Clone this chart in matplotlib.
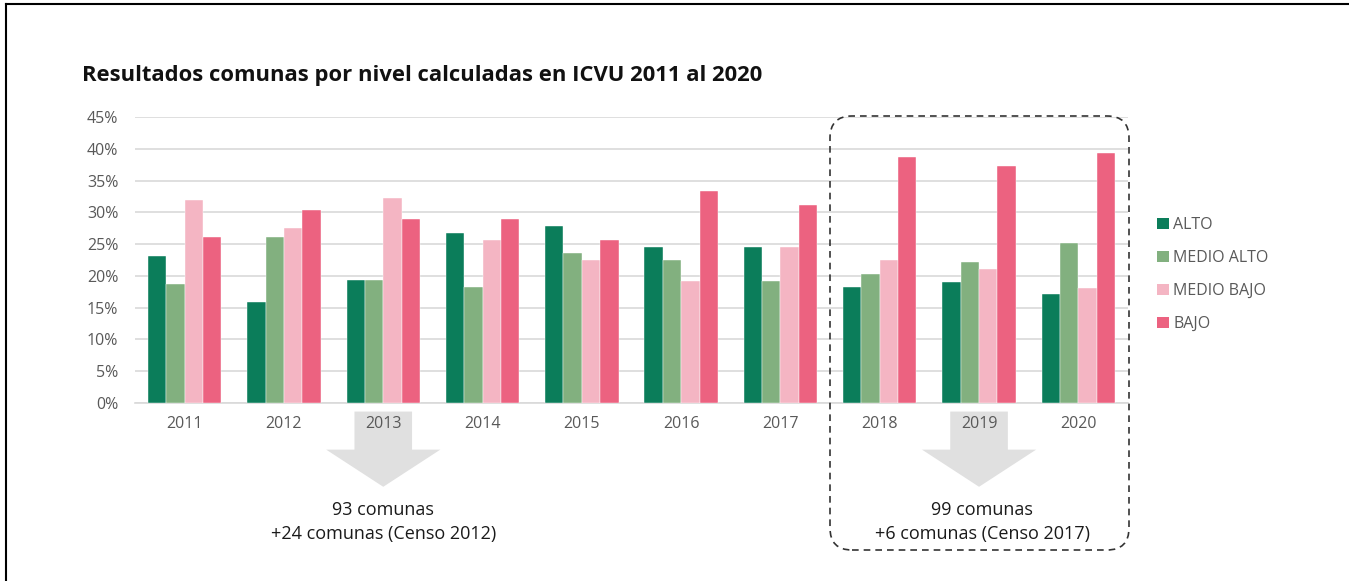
import matplotlib
matplotlib.use("Agg")
import matplotlib.pyplot as plt
import numpy as np
from matplotlib.patches import Polygon, FancyBboxPatch, Patch
from matplotlib.lines import Line2D
import matplotlib.transforms as mtrans

years = ["2011", "2012", "2013", "2014", "2015", "2016", "2017", "2018", "2019", "2020"]
series_names = ["ALTO", "MEDIO ALTO", "MEDIO BAJO", "BAJO"]
alto = [23.1, 15.9, 19.3, 26.8, 27.9, 24.6, 24.6, 18.2, 19.1, 17.1]
medio_alto = [18.8, 26.1, 19.3, 18.2, 23.6, 22.5, 19.2, 20.3, 22.2, 25.2]
medio_bajo = [31.9, 27.5, 32.2, 25.7, 22.5, 19.2, 24.6, 22.5, 21.1, 18.1]
bajo = [26.1, 30.4, 29.0, 29.0, 25.7, 33.4, 31.1, 38.7, 37.3, 39.3]
colors = ["#0b7d5a", "#82b07f", "#f4b5c3", "#ec6280"]
title = "Resultados comunas por nivel calculadas en ICVU 2011 al 2020"
note1 = ["93 comunas", "+24 comunas (Censo 2012)"]
note2 = ["99 comunas", "+6 comunas (Censo 2017)"]

plt.rcParams['font.family'] = ['Open Sans', 'DejaVu Sans']

W, H = 1349, 581
fig = plt.figure(figsize=(W / 100, H / 100), dpi=100)
ax = fig.add_axes([135 / W, 178 / H, (1128 - 135) / W, (464 - 178) / H])

x = np.arange(len(years))
bw = 0.185
data = [alto, medio_alto, medio_bajo, bajo]
for i, (vals, c, name) in enumerate(zip(data, colors, series_names)):
    ax.bar(x + (i - 1.5) * bw, np.array(vals) / 100, width=bw, color=c,
           edgecolor='white', linewidth=0.3, label=name, zorder=3)

ax.set_xlim(-0.5, len(years) - 0.5)
ax.set_ylim(0, 0.45)
ax.set_yticks(np.arange(0, 0.451, 0.05))
ax.set_yticklabels([f"{int(round(v*100))}%" for v in np.arange(0, 0.451, 0.05)])
ax.set_xticks(x)
ax.set_xticklabels(years)
ax.tick_params(axis='both', length=0, labelsize=11.5, colors='#595959')
ax.tick_params(axis='x', pad=9)
ax.tick_params(axis='y', pad=12)
ax.grid(axis='y', color='#d9d9d9', linewidth=1.2, zorder=0)
ax.set_axisbelow(True)
for s in ['top', 'right', 'left']:
    ax.spines[s].set_visible(False)
ax.spines['bottom'].set_color('#d9d9d9')
ax.spines['bottom'].set_linewidth(1.2)

# arrows (behind tick labels)
trans = mtrans.blended_transform_factory(ax.transData, ax.transAxes)
for cx in [2, 8]:
    sw, hw = 0.29, 0.575
    pts = [(cx - sw, -0.03), (cx + sw, -0.03), (cx + sw, -0.163), (cx + hw, -0.163),
           (cx, -0.293), (cx - hw, -0.163), (cx - sw, -0.163)]
    poly = Polygon(pts, closed=True, transform=trans, facecolor='#e0e0e0',
                   edgecolor='none', clip_on=False, zorder=0.5)
    ax.add_patch(poly)

for cx, lines in [(2.0, note1), (8.03, note2)]:
    ax.text(cx, -0.374, lines[0], transform=trans, ha='center', va='center',
            fontsize=13, color='#1a1a1a')
    ax.text(cx, -0.458, lines[1], transform=trans, ha='center', va='center',
            fontsize=13, color='#1a1a1a')

# title
fig.text(82 / W, 1 - 75 / H, title, fontsize=15.8, fontweight='bold',
         ha='left', va='center', color='#111111')

# legend
handles = [Patch(facecolor=c, edgecolor='none') for c in colors]
fig.legend(handles, series_names, loc='upper left', bbox_to_anchor=(1143 / W, 1 - 203 / H),
           frameon=False, fontsize=11.5, labelcolor='#595959', handlelength=0.7,
           handleheight=0.7, handletextpad=0.3, labelspacing=1.05)

# dashed rounded box (pixel coordinates)
box = FancyBboxPatch((830, 31), 299, 434, boxstyle="round,pad=0,rounding_size=22",
                     transform=mtrans.IdentityTransform(), facecolor='none',
                     edgecolor='#333333', linestyle=(0, (4, 3)), linewidth=1.2, zorder=5)
fig.patches.append(box)

# outer frame lines
fig.add_artist(Line2D([6 / W, 1], [1 - 4 / H, 1 - 4 / H], transform=fig.transFigure,
                      color='black', linewidth=1.5))
fig.add_artist(Line2D([6 / W, 6 / W], [0, 1 - 4 / H], transform=fig.transFigure,
                      color='black', linewidth=1.5))

fig.savefig("out.png", dpi=100)
